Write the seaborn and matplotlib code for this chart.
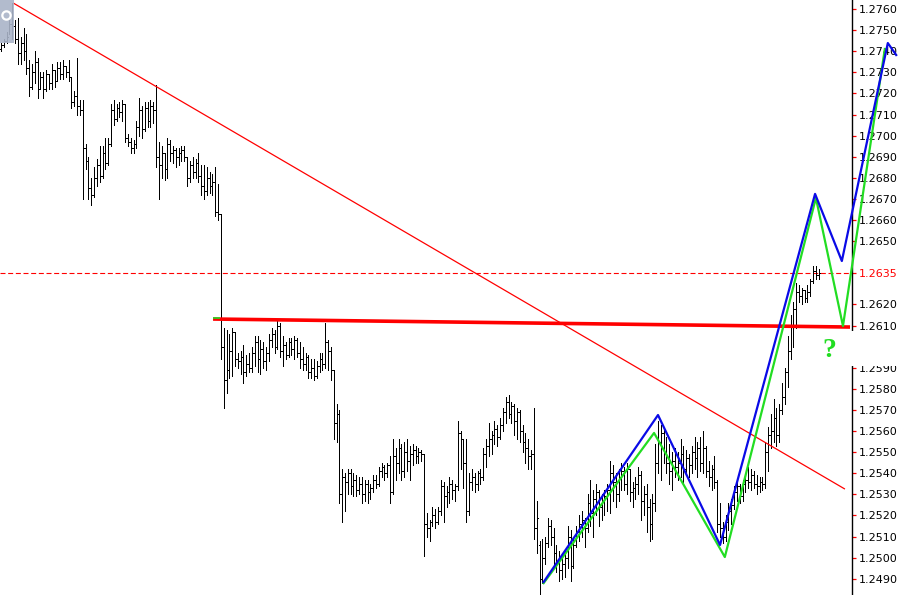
import numpy as np
import pandas as pd
import matplotlib
matplotlib.use("Agg")
import matplotlib.pyplot as plt
from matplotlib.patches import Rectangle
from matplotlib.lines import Line2D
import seaborn as sns

# ---------------- data (OHLC in pips above 1.2000: price = 1.2 + pips/10000) -------------
highs = [744,746,749,756,763,755,756,747,751,748,
         736,734,740,737,730,730,731,729,734,731,
         735,735,736,733,736,728,721,737,717,717,
         696,690,680,685,689,695,695,699,699,715,
         717,715,716,717,715,701,699,698,707,718,
         714,716,716,717,716,724,697,695,692,699,
         698,695,694,694,695,695,690,688,690,689,
         692,686,686,685,683,682,685,677,663,609,
         608,606,609,607,597,598,601,596,597,600,
         605,605,603,602,600,606,609,608,612,611,
         605,602,604,604,605,604,602,600,597,596,
         594,594,593,597,597,611,603,600,589,573,
         570,542,540,542,542,540,539,538,538,537,
         537,535,539,539,543,545,544,545,548,556,
         552,556,554,555,556,553,554,553,552,551,
         549,521,518,524,523,524,537,536,534,538,
         537,535,565,560,556,556,540,542,540,541,
         542,552,556,564,560,565,563,566,571,576,
         577,574,573,571,570,563,559,556,551,571,
         527,508,509,510,519,518,514,506,503,500,
         503,515,513,510,515,520,522,519,530,537,
         532,535,532,530,532,535,546,544,540,542,
         545,543,545,542,536,538,543,541,534,535,
         528,530,554,565,563,562,557,554,550,552,
         550,556,553,551,549,553,557,555,557,560,
         553,546,544,548,537,526,517,520,526,528,
         534,537,535,537,540,543,542,541,539,538,
         538,555,562,568,575,571,573,583,590,605,
         615,621,630,629,628,627,629,632,638,638,637]

lows = [740,742,744,748,746,744,734,734,736,729,
        719,722,725,718,722,718,721,722,722,723,
        726,727,727,728,726,713,714,710,710,670,
        684,670,667,671,676,678,680,684,686,695,
        705,707,709,707,697,695,692,692,694,700,
        699,702,704,704,706,685,670,680,679,680,
        688,687,685,686,688,688,676,678,680,680,
        678,672,670,672,673,672,662,660,594,571,
        578,585,586,591,590,587,583,586,588,588,
        591,588,587,590,589,593,600,597,599,595,
        591,594,595,596,594,595,590,589,589,585,
        585,584,585,588,589,590,589,584,556,555,
        526,517,522,530,530,529,529,530,526,527,
        526,528,531,533,534,538,537,538,526,530,
        537,540,537,538,541,537,544,545,545,546,
        501,510,508,515,514,516,520,517,524,526,
        528,527,532,542,533,517,520,532,531,532,
        535,537,543,548,549,554,553,556,560,564,
        566,564,558,556,555,550,545,542,542,509,
        502,483,488,497,505,506,495,493,489,490,
        491,495,489,495,505,508,510,505,512,515,
        510,520,515,518,520,522,521,527,524,527,
        532,532,530,527,524,528,530,518,520,512,
        508,509,522,540,537,545,540,535,532,538,
        537,538,535,539,538,540,542,538,541,540,
        538,534,532,533,512,510,507,508,513,516,
        523,527,526,527,531,533,532,533,530,531,
        532,533,541,552,555,553,555,568,573,581,
        594,600,609,621,620,621,621,624,630,632,632]

opens = [741,743,745,747,753,752,746,739,744,740,
         732,723,730,735,722,728,722,729,725,731,
         726,732,729,733,730,728,716,719,714,712,
         694,688,675,672,680,686,681,692,687,696,
         712,708,713,711,715,699,697,694,696,704,
         712,703,713,707,714,712,690,686,692,684,
         696,692,693,690,692,693,690,680,686,683,
         687,681,676,674,680,676,678,664,663,600,
         584,589,598,607,594,593,595,588,592,590,
         597,602,594,599,593,597,603,606,600,610,
         598,601,596,602,599,603,597,594,592,595,
         588,590,586,591,594,592,602,598,589,564,
         568,530,538,536,540,534,537,532,535,530,
         535,531,533,537,535,541,543,540,544,531,
         548,545,552,541,550,546,549,551,548,550,
         549,516,514,517,520,517,522,534,529,531,
         535,532,534,559,556,545,522,536,538,535,
         540,538,549,553,556,558,561,557,563,569,
         574,568,572,565,569,560,555,552,548,549,
         514,506,490,500,507,515,510,502,498,494,
         497,500,510,496,506,512,516,518,514,526,
         521,528,531,524,527,529,532,540,536,530,
         538,541,535,542,531,533,535,539,527,530,
         524,516,526,545,555,559,550,545,541,546,
         543,545,549,542,547,544,550,547,552,545,
         552,541,538,542,536,516,514,510,517,522,
         525,531,534,529,535,537,536,539,535,534,
         536,535,550,558,560,566,558,570,576,588,
         598,610,618,626,624,627,623,626,631,636,634]

closes = [743,745,747,753,752,746,739,744,740,732,
          723,730,735,722,728,722,729,725,731,726,
          732,729,733,730,728,716,719,714,712,694,
          688,675,672,680,686,681,692,687,696,712,
          708,713,711,715,699,697,694,696,704,712,
          703,713,707,714,712,690,686,692,684,696,
          692,693,690,692,693,690,680,686,683,687,
          681,676,674,680,676,678,664,663,600,584,
          589,598,607,594,593,595,588,592,590,597,
          602,594,599,593,597,603,606,600,610,598,
          601,596,602,599,603,597,594,592,595,588,
          590,586,591,594,592,602,598,589,564,568,
          530,538,536,540,534,537,532,535,530,535,
          531,533,537,535,541,543,540,544,531,548,
          545,552,541,550,546,549,551,548,550,549,
          516,514,517,520,517,522,534,529,531,535,
          532,534,559,556,545,522,536,538,535,540,
          538,549,553,556,558,561,557,563,569,574,
          568,572,565,569,560,555,552,548,549,514,
          519,490,500,507,515,510,502,498,494,497,
          500,510,496,506,512,516,518,514,526,521,
          528,531,524,527,529,532,540,536,530,538,
          541,535,542,531,533,535,539,527,530,524,
          516,526,545,555,559,550,545,541,546,543,
          545,549,542,547,544,550,547,552,545,552,
          541,538,542,536,516,514,510,517,522,525,
          531,534,529,535,537,536,539,535,534,536,
          535,550,558,560,566,558,570,576,588,598,
          610,618,626,624,627,623,626,631,636,634,635]

# drawn objects: (bar index, price)
trend_bars = [4.3, 299.3]
trend_prices = [1.27629, 1.25325]
level_bars = [75.2, 301.1]
level_prices = [1.26131, 1.26093]
blue_bars = [192.2, 233.0, 255.0, 288.7, 298.2, 314.5, 317.7]
blue_prices = [1.24880, 1.25676, 1.25060, 1.26724, 1.26406, 1.27439, 1.27378]
green_bars = [192.2, 231.6, 256.7, 289.0, 298.6, 313.5]
green_prices = [1.24875, 1.25591, 1.25003, 1.26705, 1.26098, 1.27416]
current_price = 1.2635

tick_values = [1.2490, 1.2500, 1.2510, 1.2520, 1.2530, 1.2540, 1.2550, 1.2560,
               1.2570, 1.2580, 1.2590, 1.2610, 1.2620, 1.2635, 1.2650, 1.2660,
               1.2670, 1.2680, 1.2690, 1.2700, 1.2710, 1.2720, 1.2730, 1.2740,
               1.2750, 1.2760]
tick_labels = ["%.4f" % v for v in tick_values]

# ---------------- figure ----------------
sns.set_style("white")
plt.rcParams['font.family'] = ['DejaVu Sans']

fig = plt.figure(figsize=(9, 5.95), dpi=100)
fig.patch.set_facecolor("white")
ax = fig.add_axes([0, 0, 852 / 900, 1])
ax.set_facecolor("white")

to_price = lambda a: 1.2 + np.asarray(a, dtype=float) / 10000.0
H, L, O, C = to_price(highs), to_price(lows), to_price(opens), to_price(closes)
x = np.arange(len(H))

ax.vlines(x, L, H, color="black", lw=0.7, antialiased=False, zorder=2)
ax.hlines(O, x - 0.34, x, color="black", lw=0.7, antialiased=False, zorder=2)
ax.hlines(C, x, x + 0.34, color="black", lw=0.7, antialiased=False, zorder=2)

# current price dashed line
ax.axhline(current_price, color="red", lw=0.8, dashes=(4.5, 2.4), zorder=1)

def seaborn_line(bars, prices, color, lw, clip=True, z=3):
    df = pd.DataFrame({"bar": bars, "price": prices})
    n_before = len(ax.lines)
    sns.lineplot(data=df, x="bar", y="price", sort=False, estimator=None,
                 color=color, lw=lw, ax=ax)
    for ln in ax.lines[n_before:]:
        ln.set_clip_on(clip)
        ln.set_zorder(z)
        ln.set_solid_capstyle("butt")

seaborn_line(trend_bars, trend_prices, "#ff0000", 0.9, clip=False, z=3)
seaborn_line(level_bars, level_prices, "#ff0000", 2.6, clip=False, z=3)
seaborn_line([75.3, 77.5], [1.26138, 1.26138], "#22dd22", 1.2, clip=False, z=4)
seaborn_line(green_bars, green_prices, "#22dd22", 1.6, clip=False, z=4)
seaborn_line(blue_bars, blue_prices, "#0a0ae6", 1.6, clip=False, z=5)

ax.text(293.6, 1.25984, "?", color="#22dd22", fontsize=20, fontweight="bold",
        family="Liberation Serif", ha="center", va="center", clip_on=False, zorder=6)

ax.set_xlim(-0.355, 301.8)
ax.set_ylim(1.24823, 1.27643)
ax.set_xlabel("")
ax.set_ylabel("")
ax.set_xticks([])

ax.yaxis.tick_right()
ax.set_yticks(tick_values)
ax.set_yticklabels(tick_labels)
ax.tick_params(axis="y", which="both", direction="out", length=3.2, width=0.9,
               color="red", labelsize=8, pad=1.5, labelcolor="black")
for lab in ax.get_yticklabels():
    if lab.get_text() == "%.4f" % current_price:
        lab.set_color("red")

for side in ["left", "top", "bottom"]:
    ax.spines[side].set_visible(False)
ax.spines["right"].set_visible(True)
ax.spines["right"].set_color("black")
ax.spines["right"].set_linewidth(1.0)

# gap in the price scale (as in the screenshot)
fig.patches.append(Rectangle((847 / 900, (595 - 366) / 595), 53 / 900, 35 / 595,
                             transform=fig.transFigure, facecolor="white",
                             edgecolor="none", zorder=10))

# small terminal icon at top-left
fig.patches.append(Rectangle((0, 1 - 43 / 595), 14 / 900, 43 / 595,
                             transform=fig.transFigure, facecolor="#aab4c8",
                             edgecolor="none", alpha=0.9, zorder=1))
fig.add_artist(Line2D([5.5 / 900], [1 - 15 / 595], marker="o", ms=6, mfc="none",
                      mec="white", mew=1.6, transform=fig.transFigure, zorder=11))

fig.savefig("out.png", dpi=100, facecolor="white")
